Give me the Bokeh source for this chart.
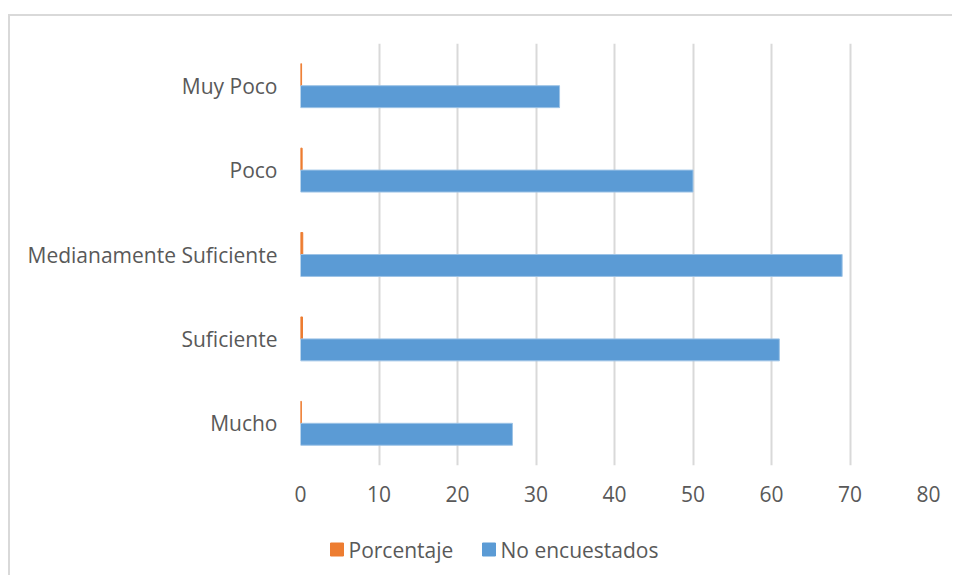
from bokeh.plotting import figure
from bokeh.layouts import column
from bokeh.models import FactorRange, ColumnDataSource, FixedTicker
from bokeh.transform import dodge
from bokeh.core.properties import value
from bokeh.embed import file_html
from bokeh.resources import INLINE

categories = ["Mucho", "Suficiente", "Medianamente Suficiente", "Poco", "Muy Poco"]
no_encuestados = [27, 61, 69, 50, 33]
porcentaje = [0.1125, 0.2542, 0.2875, 0.2083, 0.1375]
series_names = ["Porcentaje", "No encuestados"]
series_colors = ["#ED7D31", "#5B9BD5"]
x_ticks = [0, 10, 20, 30, 40, 50, 60, 70, 80]

FONT = "Open Sans"
FS = "21px"
TEXT = "#595959"
GRID = "#D9D9D9"

W = 944
src = ColumnDataSource(dict(cat=categories, no=no_encuestados, pct=porcentaje))

p = figure(
    width=W, height=494,
    y_range=FactorRange(*categories, range_padding=0),
    x_range=(0, 80),
    output_backend="svg", toolbar_location=None,
    min_border_left=290, min_border_right=W - 918, min_border_top=27, min_border_bottom=45,
    margin=(14, 0, 0, 8),
)
p.styles = {"border-left": f"2px solid {GRID}", "border-top": f"2px solid {GRID}"}
p.outline_line_color = None

p.hbar(y=dodge("cat", 0.13, range=p.y_range), right="pct", left=0, height=0.26,
       color=series_colors[0], source=src)
p.hbar(y=dodge("cat", -0.13, range=p.y_range), right="no", left=0, height=0.26,
       color=series_colors[1], line_color="#9DC3E6", line_width=1, source=src)

p.xaxis.ticker = FixedTicker(ticks=x_ticks)
p.xaxis.axis_line_color = None
p.xaxis.major_tick_line_color = None
p.xaxis.minor_tick_line_color = None
p.xaxis.major_label_standoff = 14
p.xaxis.major_label_text_font = FONT
p.xaxis.major_label_text_font_size = FS
p.xaxis.major_label_text_color = TEXT

p.yaxis.axis_line_color = None
p.yaxis.major_tick_line_color = None
p.yaxis.major_label_standoff = 17
p.yaxis.major_label_text_font = FONT
p.yaxis.major_label_text_font_size = FS
p.yaxis.major_label_text_color = TEXT

p.xgrid.grid_line_color = GRID
p.xgrid.grid_line_width = 2
p.ygrid.grid_line_color = None

# legend panel: its frame is aligned with the main frame (page x 300..928),
# so its x range is expressed in page pixels
LH = 67
lp = figure(width=W, height=LH, x_range=(300, 928), y_range=(0, LH),
            x_axis_type=None, y_axis_type=None, output_backend="svg", toolbar_location=None,
            min_border=0, margin=(0, 0, 0, 8))
lp.styles = {"border-left": f"2px solid {GRID}"}
lp.outline_line_color = None
leg_x = [336.5, 488.5]
leg_y = LH - 41
lp.rect(x=leg_x, y=[leg_y, leg_y], width=13, height=13, color=series_colors)
lp.text(x=[x + 11.5 for x in leg_x], y=[leg_y, leg_y], text=series_names,
        text_font=value(FONT), text_font_size=FS, text_color=TEXT,
        text_baseline="middle", text_align="left")

layout = column(p, lp, spacing=0)
open("out.html", "w").write(file_html(layout, INLINE))
